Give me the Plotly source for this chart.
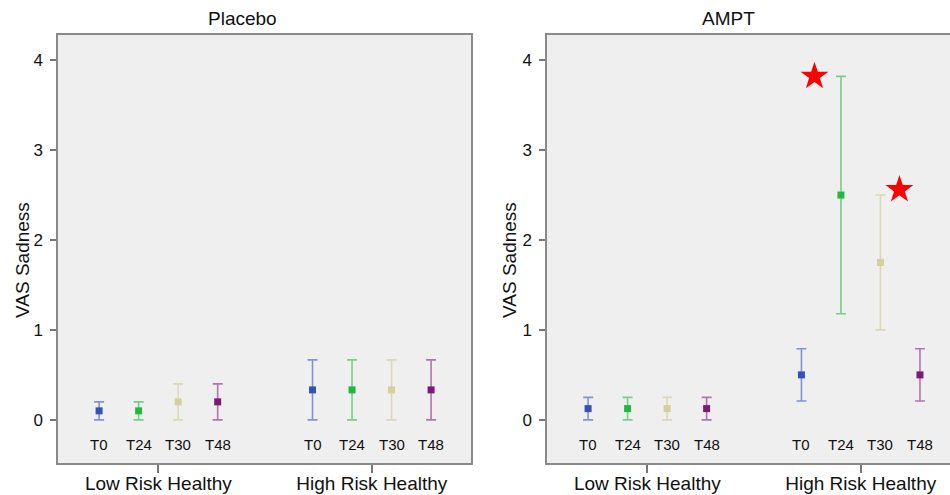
import plotly.graph_objects as go

panels = ["Placebo", "AMPT"]
groups = ["Low Risk Healthy", "High Risk Healthy"]
times = ["T0", "T24", "T30", "T48"]

# means / upper / lower of 95% CI : [panel][group][time]
means = {
    "Placebo": [[0.10, 0.10, 0.20, 0.20], [0.333, 0.333, 0.333, 0.333]],
    "AMPT": [[0.125, 0.125, 0.125, 0.125], [0.50, 2.50, 1.75, 0.50]],
}
upper = {
    "Placebo": [[0.20, 0.20, 0.40, 0.40], [0.667, 0.667, 0.667, 0.667]],
    "AMPT": [[0.25, 0.25, 0.25, 0.25], [0.79, 3.82, 2.50, 0.79]],
}
lower = {
    "Placebo": [[0.0, 0.0, 0.0, 0.0], [0.0, 0.0, 0.0, 0.0]],
    "AMPT": [[0.0, 0.0, 0.0, 0.0], [0.21, 1.18, 1.00, 0.21]],
}
# significance stars: (panel, group index, time index, side)
stars = [("AMPT", 1, 1, "left"), ("AMPT", 1, 2, "right")]

yticks = [0, 1, 2, 3, 4]

marker_colors = ["#3652b8", "#22b83c", "#d3d09c", "#7d1a78"]
bar_colors = ["#8093d8", "#74d184", "#dcd9b2", "#b274b0"]

GAP = 2.4
def xpos(g, t):
    return g * (len(times) - 1 + GAP) + t

W, H = 950, 495
fig = go.Figure()

domains = [[58 / W, 471 / W], [547 / W, 1.0]]
ranges = [[-1.04, 9.41], [-1.04, 9.16]]
ydom = [1 - 463 / H, 1 - 35 / H]
title_x = [242 / W, 728 / W]
ytitle_x = [22 / W, 509 / W]

for p, panel in enumerate(panels):
    xa = "x" if p == 0 else "x2"
    ya = "y" if p == 0 else "y2"
    for t, tm in enumerate(times):
        xs = [xpos(g, t) for g in range(len(groups))]
        ms = [means[panel][g][t] for g in range(len(groups))]
        up = [upper[panel][g][t] - means[panel][g][t] for g in range(len(groups))]
        dn = [means[panel][g][t] - lower[panel][g][t] for g in range(len(groups))]
        fig.add_trace(go.Scatter(
            x=xs, y=ms, mode="markers", xaxis=xa, yaxis=ya, showlegend=False,
            marker=dict(symbol="square", size=7, color=marker_colors[t]),
            error_y=dict(type="data", symmetric=False, array=up, arrayminus=dn,
                         color=bar_colors[t], thickness=1.6, width=5),
        ))
        for g in range(len(groups)):
            fig.add_annotation(x=xpos(g, t), y=-0.27, xref=xa, yref=ya, text=tm,
                               showarrow=False,
                               font=dict(family="Liberation Sans, Arial", size=15, color="#111"))

for panel, g, t, side in stars:
    p = panels.index(panel)
    xa = "x" if p == 0 else "x2"
    ya = "y" if p == 0 else "y2"
    off = -0.67 if side == "left" else 0.48
    fig.add_trace(go.Scatter(
        x=[xpos(g, t) + off], y=[upper[panel][g][t] + (0 if side == "left" else 0.06)],
        mode="markers", xaxis=xa, yaxis=ya, showlegend=False,
        marker=dict(symbol="star", size=21, color="#ff0000", line=dict(width=0)),
    ))

centers = [(xpos(g, 0) + xpos(g, len(times) - 1)) / 2 for g in range(len(groups))]
axfont = dict(family="Liberation Sans, Arial", size=19, color="#111")
for p in range(2):
    xk = "xaxis" if p == 0 else "xaxis2"
    yk = "yaxis" if p == 0 else "yaxis2"
    fig.update_layout(**{
        xk: dict(domain=domains[p], range=ranges[p], anchor="y" if p == 0 else "y2",
                 tickvals=centers, ticktext=groups, ticks="outside", ticklen=8,
                 tickcolor="#777", tickwidth=1.5, showgrid=False, zeroline=False,
                 showline=True, linecolor="#8a8a8a", linewidth=1.5, mirror=True,
                 tickfont=axfont, ticklabelstandoff=-6, fixedrange=True),
        yk: dict(domain=ydom, range=[-0.48, 4.28], anchor="x" if p == 0 else "x2",
                 tickvals=yticks, ticks="outside", ticklen=6, tickcolor="#777",
                 tickwidth=1.5, showgrid=False, zeroline=False, showline=True,
                 linecolor="#8a8a8a", linewidth=1.5, mirror=(p == 0),
                 ticklabelstandoff=4,
                 tickfont=dict(family="Liberation Sans, Arial", size=17, color="#111")),
    })
    fig.add_annotation(x=title_x[p], y=1 - 18 / H, xref="paper", yref="paper", text=panels[p],
                       xanchor="center", yanchor="middle", showarrow=False,
                       font=dict(family="Liberation Sans, Arial", size=19, color="#111"))
    fig.add_annotation(x=ytitle_x[p], y=1 - 260 / H, xref="paper", yref="paper",
                       text="VAS Sadness", textangle=-90, showarrow=False,
                       xanchor="center", yanchor="middle",
                       font=dict(family="Liberation Sans, Arial", size=19, color="#111"))

fig.update_layout(width=W, height=H, margin=dict(l=0, r=0, t=0, b=0, autoexpand=False),
                  paper_bgcolor="white", plot_bgcolor="#efefef",
                  font=dict(family="Liberation Sans, Arial"))
fig.write_html("out.html", config={"displayModeBar": False},
               post_script="document.body.style.margin='0';document.body.style.overflow='hidden';")
